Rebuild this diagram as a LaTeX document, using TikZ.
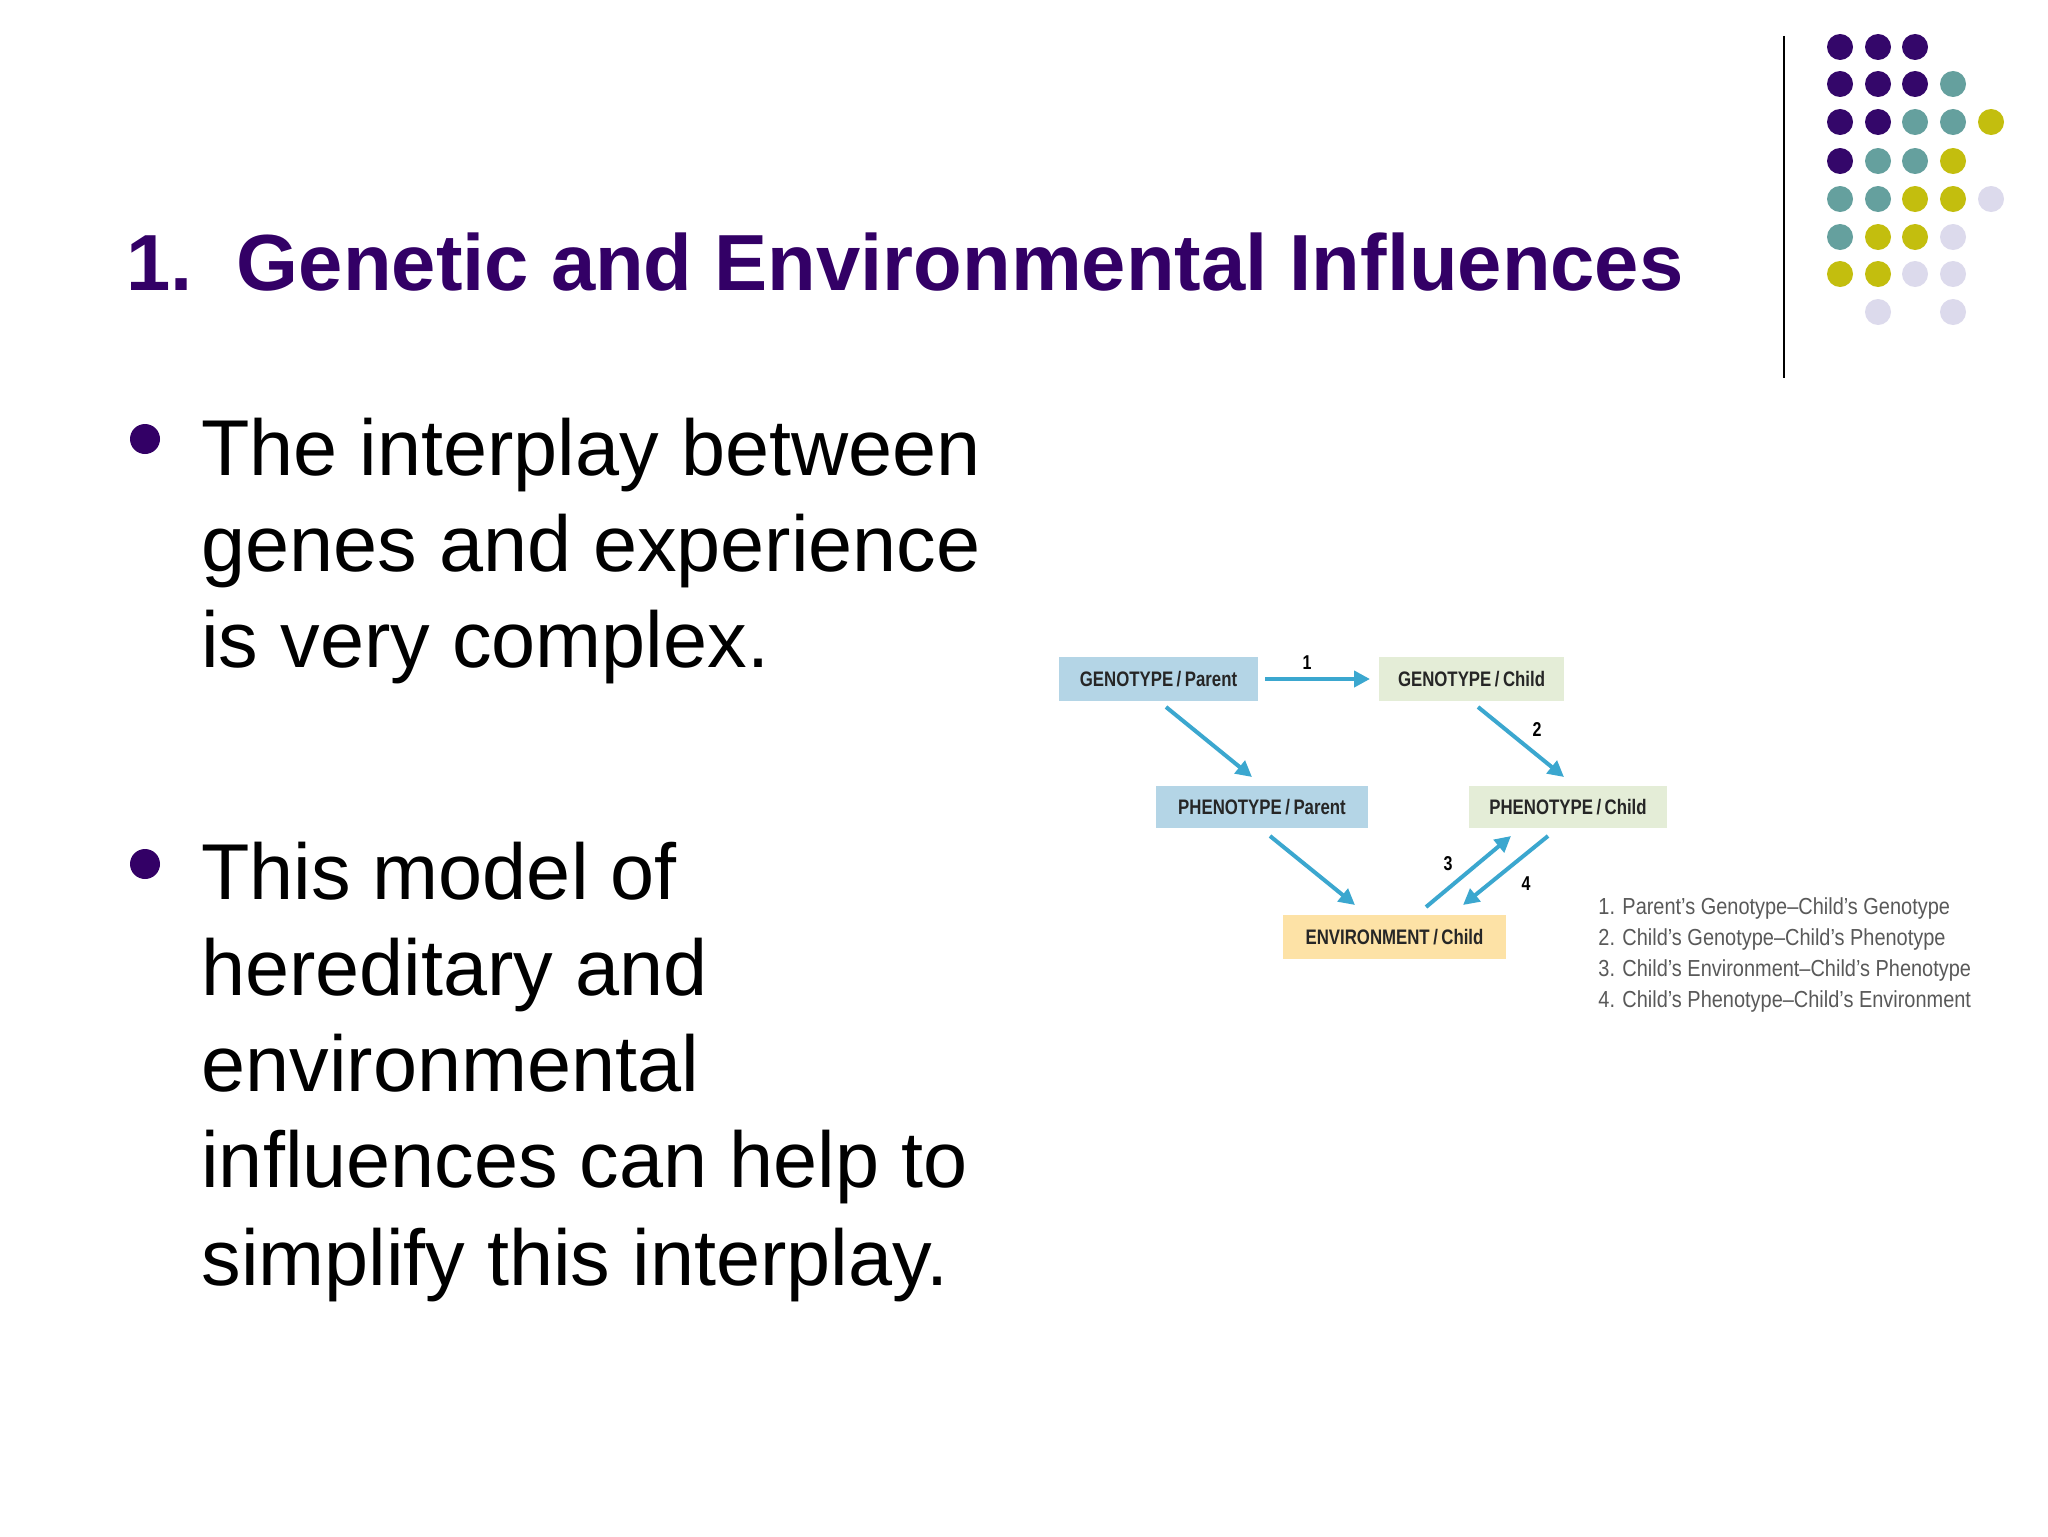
\documentclass[tikz,border=0pt]{standalone}
\usepackage{fontspec}
\setmainfont{Liberation Sans}
\newfontfamily\cond[FakeStretch=0.8]{Liberation Sans}
\newfontfamily\condl[FakeStretch=0.86]{Liberation Sans}
\usetikzlibrary{arrows.meta}
\definecolor{ttl}{HTML}{330066}
\definecolor{dP}{HTML}{34076A}
\definecolor{dT}{HTML}{65A09E}
\definecolor{dY}{HTML}{C3BE0E}
\definecolor{dL}{HTML}{DCDAEC}
\definecolor{arr}{HTML}{3BA7CF}
\definecolor{bB}{HTML}{B4D5E6}
\definecolor{bG}{HTML}{E4EDD7}
\definecolor{bY}{HTML}{FDE2A6}
\tikzset{
  bx/.style={inner sep=0pt,font=\cond\bfseries\fontsize{10.5}{12}\selectfont,text=black!85},
  ar/.style={draw=arr,line width=2pt,-{Triangle[length=8pt,width=8pt]}},
  bl/.style={anchor=base west,font=\fontsize{39.6}{46}\selectfont},
  lg/.style={anchor=base west,font=\condl\fontsize{11.6}{12}\selectfont,text=black!65},
  nm/.style={font=\cond\bfseries\fontsize{10}{12}\selectfont}
}
\newcommand{\myslash}{\,/\,}
\begin{document}
\begin{tikzpicture}[x=0.5pt,y=-0.5pt]
\useasboundingbox (0,0) rectangle (2048,1536);
\fill[white] (0,0) rectangle (2048,1536);
\draw[black,line width=1pt] (1784,36) -- (1784,378);
\def\cx{{1840,1878,1915,1953,1991}}
\foreach \row/\y/\cols in {1/47/{P,P,P,N,N},2/84/{P,P,P,T,N},3/122/{P,P,T,T,Y},4/161/{P,T,T,Y,N},5/199/{T,T,Y,Y,L},6/237/{T,Y,Y,L,N},7/274/{Y,Y,L,L,N},8/312/{N,L,N,L,N}}{
  \foreach \c [count=\i from 0] in \cols {
    \pgfmathparse{\cx[\i]}\let\xx\pgfmathresult
    \if N\c\else \fill[d\c] (\xx,\y) circle (13);\fi
  }
}
\node[anchor=base west,inner sep=0pt,text=ttl,font=\bfseries\fontsize{39.8}{44}\selectfont] (title) at (126,290) {1.\ \ Genetic and Environmental Influences};
\fill[ttl] (145,439) circle (15);
\fill[ttl] (145,864) circle (15);
\node[bl,inner sep=0pt] (a1) at (201,475) {The interplay between};
\node[bl,inner sep=0pt] (a2) at (201,571) {genes and experience};
\node[bl,inner sep=0pt] (a3) at (201,667) {is very complex.};
\node[bl,inner sep=0pt] (b1) at (201,899) {This model of};
\node[bl,inner sep=0pt] (b2) at (201,995) {hereditary and};
\node[bl,inner sep=0pt] (b3) at (201,1091) {environmental};
\node[bl,inner sep=0pt] (b4) at (201,1187) {influences can help to};
\node[bl,inner sep=0pt] (b5) at (201,1285) {simplify this interplay.};
\begin{scope}[xshift=-5pt,yshift=2pt]
\fill[bB] (1069,661) rectangle (1268,705);
\node[bx] (gp) at (1168.5,683) {GENOTYPE\myslash Parent};
\fill[bG] (1389,661) rectangle (1574,705);
\node[bx] (gc) at (1481.5,683) {GENOTYPE\myslash Child};
\fill[bB] (1166,790) rectangle (1378,832);
\node[bx] (pp) at (1272,811) {PHENOTYPE\myslash Parent};
\fill[bG] (1479,790) rectangle (1677,832);
\node[bx] (pc) at (1578,811) {PHENOTYPE\myslash Child};
\fill[bY] (1293,919) rectangle (1516,963);
\node[bx] (ec) at (1404.5,941) {ENVIRONMENT\myslash Child};
\coordinate (s1) at (1275,683); \coordinate (e1) at (1380,683);
\coordinate (s2) at (1176,711); \coordinate (e2) at (1262,781);
\coordinate (s3) at (1488,711); \coordinate (e3) at (1574,781);
\coordinate (s4) at (1280,840); \coordinate (e4) at (1365,909);
\coordinate (s5) at (1436,911); \coordinate (e5) at (1521,840);
\coordinate (s6) at (1558,840); \coordinate (e6) at (1473,909);
\draw[ar] (s1) -- (e1);
\draw[ar] (s2) -- (e2);
\draw[ar] (s3) -- (e3);
\draw[ar] (s4) -- (e4);
\draw[ar] (s5) -- (e5);
\draw[ar] (s6) -- (e6);
\node[nm] (n1) at (1317,667) {1};
\node[nm] (n2) at (1547,734) {2};
\node[nm] (n3) at (1458,868) {3};
\node[nm] (n4) at (1536,888) {4};
\node[lg,inner sep=0pt] (l1) at (1608,918) {1. Parent’s Genotype–Child’s Genotype};
\node[lg,inner sep=0pt] (l2) at (1608,949) {2. Child’s Genotype–Child’s Phenotype};
\node[lg,inner sep=0pt] (l3) at (1608,980) {3. Child’s Environment–Child’s Phenotype};
\node[lg,inner sep=0pt] (l4) at (1608,1011) {4. Child’s Phenotype–Child’s Environment};
\end{scope}
\end{tikzpicture}
\end{document}
